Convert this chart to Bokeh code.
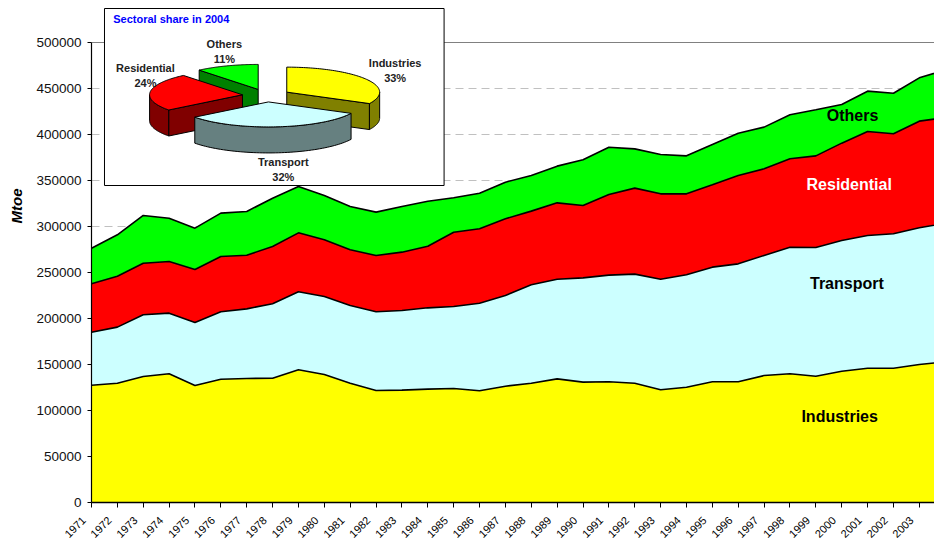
import numpy as np
from math import pi
from bokeh.plotting import figure
from bokeh.models import Range1d, FixedTicker, Span, Title, NumeralTickFormatter, ColumnDataSource
from bokeh.core.properties import value
from bokeh.embed import file_html
from bokeh.resources import INLINE

# ---------------- data (Mtoe) ----------------
years = list(range(1971, 2005))
industries = [127500, 129700, 137000, 139900, 127200, 134000, 134800, 135100, 144200, 139100,
              129700, 121700, 122100, 123200, 123900, 121400, 126400, 129700, 134400, 130800,
              131200, 129700, 122500, 125300, 131200, 131200, 138000, 139900, 137300, 142700,
              146000, 146000, 150000, 153000]
transport = [57600, 60900, 67000, 65900, 68500, 73300, 75700, 80900, 84800, 84800,
             84400, 85600, 86600, 88400, 89100, 95200, 98600, 106900, 108300, 113400,
             115900, 118500, 120200, 122200, 124600, 128200, 130500, 137600, 139900, 142100,
             144200, 146100, 148600, 150500]
residential = [52600, 55400, 56100, 56200, 57600, 60100, 58300, 62300, 64100, 61600,
               60600, 61200, 63400, 67000, 80800, 80900, 83400, 80100, 83000, 78600,
               87700, 93500, 92800, 88000, 89500, 96000, 94200, 96100, 99600, 105800,
               113100, 108700, 115900, 115000]
others = [38700, 45000, 51900, 47000, 44900, 47100, 47500, 52500, 50400, 48200,
          47000, 47100, 49600, 48900, 37400, 38700, 39800, 38700, 39900, 49700,
          51400, 42700, 42800, 41300, 43800, 46000, 45300, 47800, 50100, 42000,
          43800, 44100, 47100, 51500]
sectors = ["Industries", "Transport", "Residential", "Others"]
y_ticks = list(range(0, 500001, 50000))

fill_colors = ["#FFFF00", "#CCFFFF", "#FF0000", "#00FF00"]
side_colors = ["#808000", "#668080", "#800000", "#008000"]
label_colors = ["#000000", "#000000", "#FFFFFF", "#000000"]

FONT = "Liberation Sans"

# ---------------- layout ----------------
W, H = 934, 548
BL, BB, BT = 90, 46, 0
FW, FH = W - BL, H - BB - BT
PX_PER_YEAR = 25.9
TOP_GAP = 42  # pixels between frame top and 500000 line
x_end = years[0] + FW / PX_PER_YEAR
y_end = y_ticks[-1] * FH / (FH - TOP_GAP)

p = figure(width=W, height=H, output_backend="svg", toolbar_location=None,
           x_range=Range1d(years[0], x_end), y_range=Range1d(0, y_end),
           min_border_left=BL, min_border_right=0, min_border_top=BT, min_border_bottom=BB,
           background_fill_color="white", border_fill_color="white", outline_line_color=None)

# axes
p.xaxis.ticker = FixedTicker(ticks=years)
# trailing en-spaces nudge the rotated labels down-left of their ticks, as in the original
p.xaxis.major_label_overrides = {y: f"{y}\u2002\u2002" for y in years}
p.xaxis.major_label_orientation = pi / 4
p.xaxis.major_label_text_font = FONT
p.xaxis.major_label_text_font_size = "11px"
p.xaxis.major_label_text_color = "#000000"
p.xaxis.major_label_standoff = 3
p.xaxis.axis_line_width = 1.5
p.xaxis.axis_line_color = "black"
p.xaxis.major_tick_out = 5
p.xaxis.major_tick_in = 0
p.xaxis.minor_tick_line_color = None

p.yaxis.ticker = FixedTicker(ticks=y_ticks)
p.yaxis.bounds = (y_ticks[0], y_ticks[-1])
p.yaxis.formatter = NumeralTickFormatter(format="0")
p.yaxis.major_label_text_font = FONT
p.yaxis.major_label_text_font_size = "13.5px"
p.yaxis.major_label_text_color = "#111111"
p.yaxis.major_label_standoff = 6
p.yaxis.axis_line_color = "black"
p.yaxis.axis_line_width = 1.2
p.yaxis.major_tick_out = 4
p.yaxis.major_tick_in = 0
p.yaxis.minor_tick_line_color = None

# y-axis title as a left-side title, placed like the original (above centre)
p.add_layout(Title(text="Mtoe", align="left", offset=279, vertical_align="top",
                   text_font=FONT, text_font_style="bold italic", text_font_size="15px",
                   text_color="black", standoff=14), "left")

p.xgrid.visible = False
p.ygrid.ticker = FixedTicker(ticks=y_ticks[1:-1])
p.ygrid.grid_line_color = "#c0c0c0"
p.ygrid.grid_line_dash = "8 5"
p.add_layout(Span(location=y_ticks[-1], dimension="width", line_color="#808080",
                  line_width=1, level="underlay"))

# stacked areas
src = ColumnDataSource(dict(year=years, ind=industries, tra=transport, res=residential, oth=others))
keys = ["ind", "tra", "res", "oth"]
p.varea_stack(stackers=keys, x="year", color=fill_colors, source=src)
p.vline_stack(stackers=keys, x="year", color="black", line_width=1.6, source=src)

# area labels (data coordinates)
lab_x = [1999.92, 2000.2, 2000.29, 2000.42]
lab_y = [93500, 238000, 345600, 420600]
for name, lx, ly, lc in zip(sectors, lab_x, lab_y, label_colors):
    p.text(x=[lx], y=[ly], text=[name], text_font=value(FONT), text_font_style="bold",
           text_font_size="16px", text_color=lc, text_align="center", text_baseline="middle")

# ---------------- inset (frame pixel coordinates) ----------------
p.extra_x_ranges = {"ix": Range1d(0, FW)}
p.extra_y_ranges = {"iy": Range1d(FH, 0)}
R = dict(x_range_name="ix", y_range_name="iy")

p.quad(left=[13], right=[353], top=[8], bottom=[185], fill_color="white",
       line_color="black", line_width=1, **R)
p.text(x=[21.7], y=[18], text=["Sectoral share in 2004"], text_font=value(FONT),
       text_font_style="bold", text_font_size="11px", text_color="#0000FF",
       text_align="left", text_baseline="middle", **R)

vals_2004 = [industries[-1], transport[-1], residential[-1], others[-1]]
total = float(sum(vals_2004))
shares = [v / total for v in vals_2004]

CX, CY, RX, RY, DEPTH, EXPLODE = 175.0, 95.0, 93.0, 25.0, 26.0, 24.0


def pt(ax, ay, deg):
    t = np.radians(deg)
    return ax + RX * np.cos(t), ay - RY * np.sin(t)


wedges = []
a_start = 90.0
for i, s in enumerate(shares):
    a0 = a_start
    a1 = a_start - 360.0 * s
    mid = np.radians((a0 + a1) / 2)
    ax = CX + EXPLODE * np.cos(mid)
    ay = CY - EXPLODE * np.sin(mid) * RY / RX
    ts = np.linspace(a0, a1, 80)
    top_x = [ax] + [pt(ax, ay, t)[0] for t in ts]
    top_y = [ay] + [pt(ax, ay, t)[1] for t in ts]
    sides = []
    # front-facing curved side
    for k in (-1, 0, 1):
        lo, hi = max(a1, -180 + 360 * k), min(a0, 360 * k)
        if hi - lo > 0.5:
            seg = np.linspace(hi, lo, 60)
            sx = [pt(ax, ay, t)[0] for t in seg]
            sy = [pt(ax, ay, t)[1] for t in seg]
            sides.append((sx + sx[::-1], sy + [v + DEPTH for v in sy[::-1]]))
    # radial faces facing the viewer
    for ang, vis in ((a0, np.cos(np.radians(a0)) < -1e-6), (a1, np.cos(np.radians(a1)) > 1e-6)):
        if vis:
            ex, ey = pt(ax, ay, ang)
            sides.append(([ax, ex, ex, ax], [ay, ey, ey + DEPTH, ay + DEPTH]))
    wedges.append((ay, i, top_x, top_y, sides))
    a_start = a1

for ay, i, top_x, top_y, sides in sorted(wedges, key=lambda w: w[0]):
    if sides:
        p.patches(xs=[sd[0] for sd in sides], ys=[sd[1] for sd in sides],
                  fill_color=side_colors[i], line_color="black", line_width=1, **R)
    p.patch(x=top_x, y=top_y, fill_color=fill_colors[i], line_color="black", line_width=1, **R)

# pie labels
pie_lab_x = [304, 192, 54, 133]
pie_lab_y = [62, 161, 67, 43]
for i, name in enumerate(sectors):
    p.text(x=[pie_lab_x[i]] * 2, y=[pie_lab_y[i], pie_lab_y[i] + 15],
           text=[name, f"{round(shares[i] * 100)}%"], text_font=value(FONT),
           text_font_style="bold", text_font_size="11px", text_color="#222222",
           text_align="center", text_baseline="middle", **R)

open("out.html", "w").write(file_html(p, INLINE))
